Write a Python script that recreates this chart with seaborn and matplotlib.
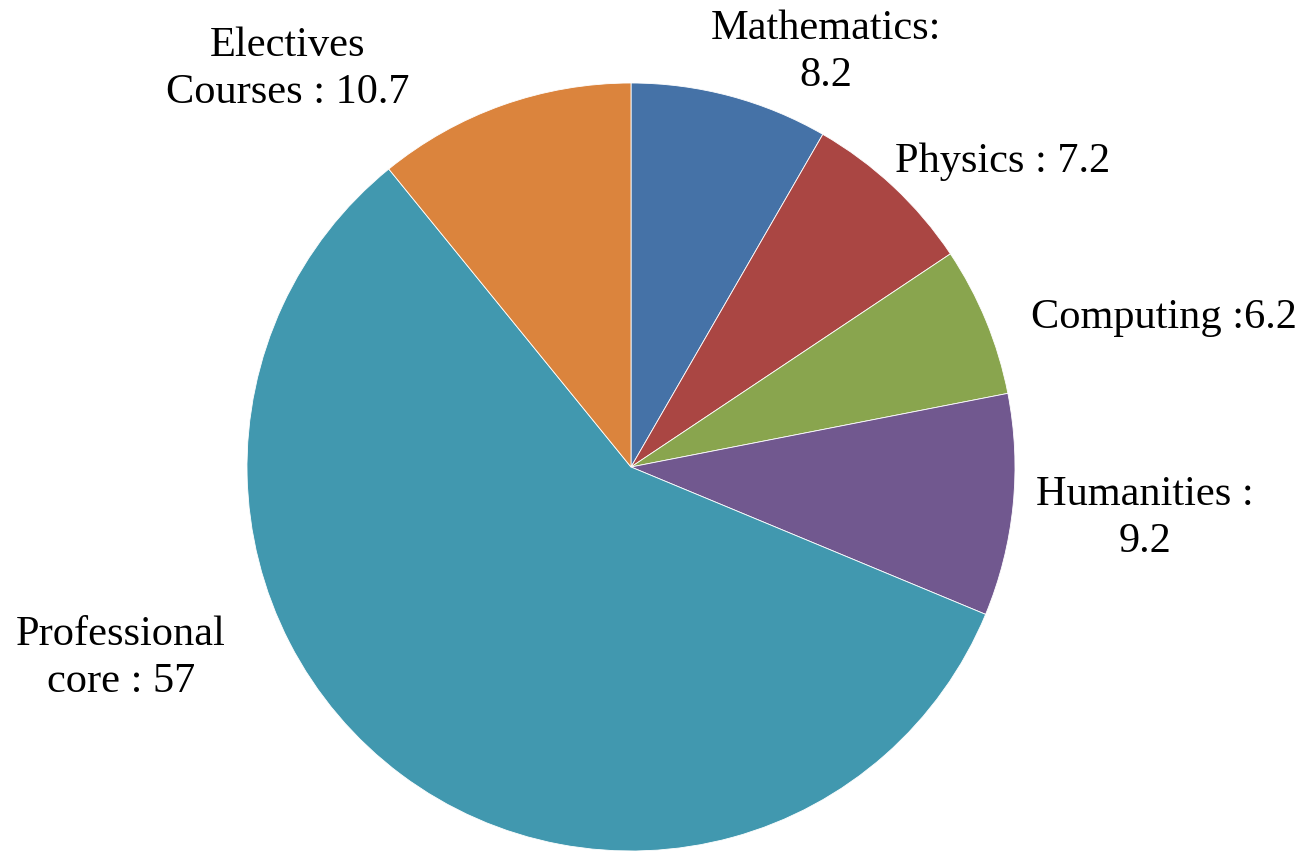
import matplotlib
matplotlib.use("Agg")
import matplotlib.pyplot as plt
import seaborn as sns

categories = ["Mathematics", "Physics", "Computing", "Humanities", "Professional core", "Electives Courses"]
values = [8.2, 7.2, 6.2, 9.2, 57, 10.7]
label_texts = ["Mathematics:\n8.2", "Physics : 7.2", "Computing :6.2", "Humanities :\n9.2",
               "Professional\ncore : 57", "Electives\nCourses : 10.7"]
colors = ["#4572A7", "#AA4643", "#89A54E", "#71588F", "#4198AF", "#DB843D"]

sns.set_theme(style="white")
plt.rcParams['font.family'] = ['Liberation Serif', 'DejaVu Serif']

W, H = 1309, 851
fig = plt.figure(figsize=(W / 100, H / 100), dpi=100)
ax = fig.add_axes([0, 0, 1, 1])
cx, cy, r = 631, 467, 384
ax.pie(values, colors=colors, startangle=90, counterclock=False, radius=1,
       wedgeprops=dict(linewidth=0.6, edgecolor="white"))
ax.set_xlim(-cx / r, (W - cx) / r)
ax.set_ylim(-(H - cy) / r, cy / r)
ax.set_aspect('auto')
ax.axis('off')

# label positions in pixel coords (centre of text block)
label_px = [(826, 52), (1003, 162), (1164, 318), (1145, 518), (121, 658), (288, 69)]
for txt, (px, py) in zip(label_texts, label_px):
    ax.text((px - cx) / r, (cy - py) / r, txt, ha="center", va="center",
            fontsize=30.5, color="black", linespacing=1.3)

fig.savefig("out.png", dpi=100)
